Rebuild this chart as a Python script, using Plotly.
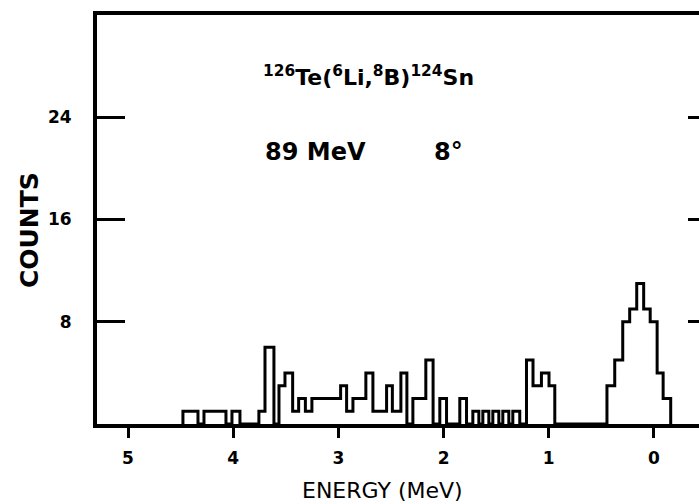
import numpy as np
import plotly.graph_objects as go

# Bin edges (MeV, high energy -> low energy) and counts per bin
edges_mev = [4.478, 4.335, 4.278, 4.069, 4.012, 3.936, 3.756, 3.698, 3.613, 3.565,
             3.508, 3.435, 3.378, 3.314, 3.252, 2.979, 2.922, 2.862, 2.739, 2.672,
             2.542, 2.487, 2.406, 2.349, 2.292, 2.169, 2.100, 2.036, 1.972, 1.846,
             1.782, 1.722, 1.665, 1.627, 1.570, 1.532, 1.475, 1.437, 1.380, 1.342,
             1.276, 1.212, 1.150, 1.070, 0.998, 0.943, 0.447, 0.373, 0.297, 0.231,
             0.164, 0.098, 0.036, -0.030, -0.087, -0.159]
counts = [1, 0, 1, 0, 1, 0, 1, 6, 0,
          3, 4, 1, 2, 1, 2, 3, 1, 2, 4,
          1, 3, 1, 4, 0, 2, 5, 0, 2, 0,
          2, 0, 1, 0, 1, 0, 1, 0, 1, 0,
          1, 0, 5, 3, 4, 3, 0,
          3, 5, 8, 9, 11, 9, 8, 4, 2]

x_ticks = [5, 4, 3, 2, 1, 0]
x_ticktext = ["5", "4", "3", "2", "1", "0"]
y_ticks = [8, 16, 24]
y_ticktext = ["8", "16", "24"]
x_range = [5.295, -0.428]
y_range = [0, 32]

# build step outline
xs = [edges_mev[0]]
ys = [0]
for i, c in enumerate(counts):
    xs += [edges_mev[i], edges_mev[i + 1]]
    ys += [c, c]
xs.append(edges_mev[-1])
ys.append(0)

FONT = "DejaVu Sans"

fig = go.Figure()
fig.add_trace(go.Scatter(x=xs, y=ys, mode="lines",
                         line=dict(color="black", width=3),
                         showlegend=False, hoverinfo="skip"))
fig.add_trace(go.Scatter(x=[None], y=[None], yaxis="y2", mode="lines",
                         showlegend=False, hoverinfo="skip"))

fig.update_layout(
    width=699, height=504,
    margin=dict(l=97, r=0, t=15, b=80),
    paper_bgcolor="white", plot_bgcolor="white",
    xaxis=dict(range=x_range, tickvals=x_ticks, ticktext=x_ticktext,
               ticks="outside", ticklen=10, tickwidth=3, tickcolor="black",
               showline=True, linewidth=4, linecolor="black", mirror=True,
               showgrid=False, zeroline=False,
               tickfont=dict(family=FONT, size=17, color="black", weight="bold"),
               ticklabelstandoff=6),
    yaxis=dict(range=y_range, tickvals=y_ticks, ticktext=y_ticktext,
               ticks="inside", ticklen=28, tickwidth=3, tickcolor="black",
               showline=True, linewidth=4, linecolor="black",
               showgrid=False, zeroline=False,
               tickfont=dict(family=FONT, size=17, color="black", weight="bold"),
               ticklabelstandoff=18),
    yaxis2=dict(range=y_range, tickvals=y_ticks, overlaying="y", side="right",
                ticks="inside", ticklen=11, tickwidth=3, tickcolor="black",
                showticklabels=False, showline=False, showgrid=False, zeroline=False),
    annotations=[
        dict(text="ENERGY (MeV)", xref="paper", yref="paper", x=0.475, y=-0.163,
             xanchor="center", yanchor="middle", showarrow=False,
             font=dict(family=FONT, size=22, color="black")),
        dict(text="COUNTS", xref="paper", yref="paper", x=-0.112, y=0.473,
             xanchor="center", yanchor="middle", textangle=-90, showarrow=False,
             font=dict(family=FONT, size=25, color="black", weight="bold")),
        dict(text="<sup>126</sup>Te(<sup>6</sup>Li,<sup>8</sup>B)<sup>124</sup>Sn",
             xref="paper", yref="paper", x=0.272, y=0.852,
             xanchor="left", yanchor="middle", showarrow=False,
             font=dict(family=FONT, size=22, color="black", weight="bold")),
        dict(text="89 MeV", xref="paper", yref="paper", x=0.276, y=0.666,
             xanchor="left", yanchor="middle", showarrow=False,
             font=dict(family=FONT, size=24, color="black", weight="bold")),
        dict(text="8°", xref="paper", yref="paper", x=0.556, y=0.666,
             xanchor="left", yanchor="middle", showarrow=False,
             font=dict(family=FONT, size=24, color="black", weight="bold")),
    ],
)

fig.write_html("out.html", config={"displayModeBar": False},
               post_script="document.body.style.margin='0';document.body.style.overflow='hidden';")
